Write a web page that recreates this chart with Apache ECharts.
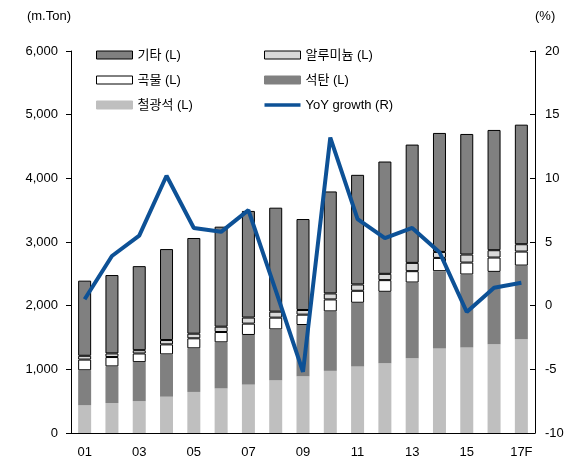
<!DOCTYPE html>
<html>
<head>
<meta charset="utf-8">
<script src="https://cdn.jsdelivr.net/npm/echarts@6/dist/echarts.min.js"></script>
<style>
  html, body { margin: 0; padding: 0; background: #fff; }
  #chart { width: 578px; height: 472px; }
</style>
</head>
<body>
<div id="chart"></div>
<script>
// 연도 (x축)
var years = ['01','02','03','04','05','06','07','08','09','10','11','12','13','14','15','16','17F'];

// 화물별 물동량 (m.Ton), 아래에서 위로 쌓는 순서
var ironOre  = [435, 470, 500, 570, 645, 700, 760, 827, 890, 976, 1044, 1096, 1174, 1326, 1341, 1394, 1472];
var coal     = [550, 576, 613, 665, 685, 724, 780, 801, 806, 934, 1002, 1122, 1190, 1216, 1149, 1137, 1158];
var grain    = [168, 147, 136, 157, 157, 162, 178, 184, 163, 188, 188, 183, 178, 208, 187, 225, 220];
var aluminum = [60, 57, 52, 68, 73, 84, 95, 94, 73, 94, 99, 99, 130, 94, 126, 115, 115];
var others   = [1180, 1231, 1320, 1429, 1503, 1571, 1675, 1633, 1429, 1602, 1722, 1764, 1858, 1869, 1894, 1889, 1878];

// 전년대비 증가율 (%)
var yoyGrowth = [0.5, 3.9, 5.5, 10.2, 6.1, 5.8, 7.5, 1.2, -5.2, 13.2, 6.8, 5.3, 6.1, 4.2, -0.5, 1.4, 1.8];

// 축 눈금
var leftTicks = { min: 0, max: 6000, interval: 1000 };
var rightTicks = { min: -10, max: 20, interval: 5 };

var FONT = '"Liberation Sans", Arial, "Noto Sans CJK KR", sans-serif';
var LINE_ICON = 'path://M0,0L36,0L36,3.5L0,3.5Z';

function barSeries(name, data, color, border) {
  return {
    name: name,
    type: 'bar',
    stack: 'total',
    barWidth: 13,
    data: data,
    itemStyle: {
      color: color,
      borderColor: border ? '#000' : color,
      borderWidth: border ? 1 : 0
    }
  };
}

var myChart = echarts.init(document.getElementById('chart'));
var legendText = { fontFamily: FONT, fontSize: 13, color: '#000', lineHeight: 16 };

var options = {
  animation: false,
  textStyle: { fontFamily: FONT },
  grid: { left: 71, right: 43, top: 51, bottom: 39 },
  legend: [
    {
      orient: 'vertical', left: 91, top: 42,
      itemWidth: 36, itemHeight: 8, itemGap: 9,
      icon: 'rect',
      itemStyle: { borderWidth: 1 },
      textStyle: legendText,
      data: ['기타 (L)', '곡물 (L)', '철광석 (L)']
    },
    {
      orient: 'vertical', left: 259, top: 42,
      itemWidth: 36, itemHeight: 8, itemGap: 9,
      icon: 'rect',
      itemStyle: { borderWidth: 1 },
      textStyle: legendText,
      data: ['알루미늄 (L)', '석탄 (L)', { name: 'YoY growth (R)', icon: LINE_ICON, itemStyle: { borderWidth: 0 } }]
    }
  ],
  xAxis: {
    type: 'category',
    data: years,
    axisLine: { lineStyle: { color: '#000', width: 1 } },
    axisTick: { inside: true, length: 5, interval: 1, lineStyle: { color: '#000' } },
    axisLabel: { interval: 1, color: '#000', fontSize: 13, margin: 13, fontFamily: FONT }
  },
  yAxis: [
    {
      type: 'value',
      min: leftTicks.min, max: leftTicks.max, interval: leftTicks.interval,
      name: '(m.Ton)',
      nameLocation: 'end',
      nameGap: 28,
      nameTextStyle: { color: '#000', fontSize: 13, align: 'right', fontFamily: FONT },
      splitLine: { show: false },
      axisLine: { show: true, lineStyle: { color: '#000' } },
      axisTick: { show: true, length: 5, lineStyle: { color: '#000' } },
      axisLabel: {
        color: '#000', fontSize: 13, margin: 13, fontFamily: FONT,
        formatter: function (v) { return v.toLocaleString('en-US'); }
      }
    },
    {
      type: 'value',
      min: rightTicks.min, max: rightTicks.max, interval: rightTicks.interval,
      name: '(%)',
      nameLocation: 'end',
      nameGap: 28,
      nameTextStyle: { color: '#000', fontSize: 13, align: 'left', fontFamily: FONT },
      splitLine: { show: false },
      axisLine: { show: true, lineStyle: { color: '#000' } },
      axisTick: { show: true, inside: true, length: 5, lineStyle: { color: '#000' } },
      axisLabel: { color: '#000', fontSize: 13, margin: 10, fontFamily: FONT }
    }
  ],
  series: [
    barSeries('철광석 (L)', ironOre, '#bfbfbf', false),
    barSeries('석탄 (L)', coal, '#808080', false),
    barSeries('곡물 (L)', grain, '#ffffff', true),
    barSeries('알루미늄 (L)', aluminum, '#d9d9d9', true),
    barSeries('기타 (L)', others, '#808080', true),
    {
      name: 'YoY growth (R)',
      type: 'line',
      yAxisIndex: 1,
      data: yoyGrowth,
      symbol: 'none',
      lineStyle: { color: '#0d5196', width: 4 },
      itemStyle: { color: '#0d5196' }
    }
  ]
};
myChart.setOption(options);
</script>
</body>
</html>
